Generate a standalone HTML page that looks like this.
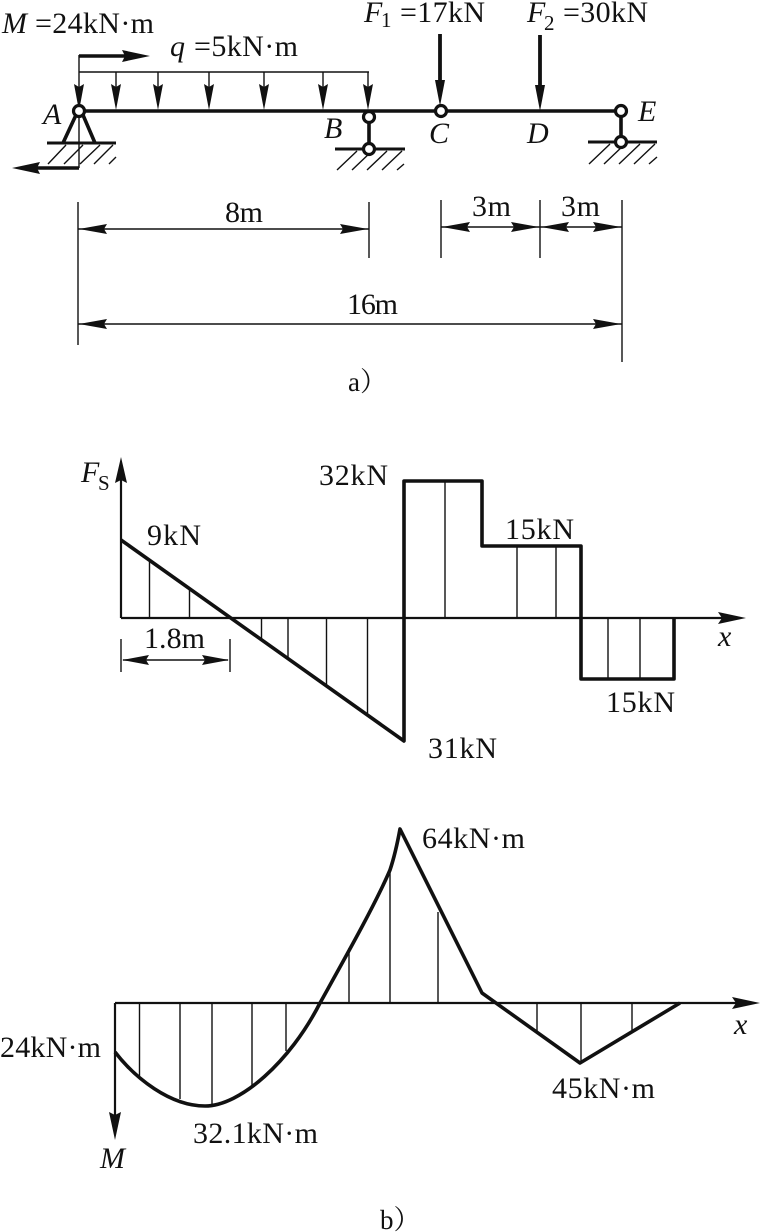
<!DOCTYPE html>
<html><head><meta charset="utf-8"><style>
html,body{margin:0;padding:0;background:#fff}
svg{display:block}
text{font-family:"Liberation Serif","Noto Serif CJK SC",serif;font-size:30px;fill:#111}
.i{font-style:italic}
.s{font-size:21px}
.t{stroke:#111;stroke-width:1.4;fill:none}
.m{stroke:#111;stroke-width:2.2;fill:none}
.b{stroke:#111;stroke-width:3.6;fill:none;stroke-linejoin:round}
.h{fill:#111}
.n{fill:#fff;stroke:#111;stroke-width:3.2}
</style></head><body>
<svg xmlns="http://www.w3.org/2000/svg" width="760" height="1232" viewBox="0 0 760 1232">
<rect width="760" height="1232" fill="#fff"/>
<!-- a) beam -->
<path class="b" d="M80 111H621"/>
<path class="t" d="M79 72H369M79 55V168M116 72V100M158 72V100M209 72V100M264 72V100M323 72V100M368 72V100"/>
<path class="h" d="M74 84L79 111L84 84L79 87ZM111 84L116 110L121 84L116 87ZM153 84L158 110L163 84L158 87ZM204 84L209 110L214 84L209 87ZM259 84L264 110L269 84L264 87ZM318 84L323 110L328 84L323 87ZM363 84L368 110L373 84L368 87Z"/>
<!-- moment -->
<path class="b" d="M79 56H128M79 168H34"/>
<path class="h" d="M122 50L150 56L122 62L125 56ZM40 162L12 168L40 174L37 168Z"/>
<!-- supports -->
<path class="b" d="M63 143L76 115M95 143L83 115M369 122V145M621 117V137"/>
<path class="b" d="M47 143H116M335 149H405M588 142H657" style="stroke-width:3"/>
<path class="t" d="M48 164L66 145M64 164L83 145M80 164L100 145M94 164L113 145M109 164L116 157M337 170L357 151M352 170L372 151M367 170L387 151M382 170L402 151M397 170L404 164M589 164L610 144M604 164L625 144M619 164L640 144M634 164L655 144M649 164L657 157"/>
<circle class="n" cx="79" cy="111" r="5.500"/>
<circle class="n" cx="369" cy="117" r="5.500"/>
<circle class="n" cx="369" cy="149" r="5.500"/>
<circle class="n" cx="441" cy="111" r="5.500"/>
<circle class="n" cx="621" cy="111" r="5.500"/>
<circle class="n" cx="621" cy="142" r="5.500"/>
<!-- forces -->
<path class="b" d="M440 34V85M540 35V90" style="stroke-width:3.800"/>
<path class="h" d="M435 80L440 106L445 80ZM535 85L540 111L545 85Z"/>
<!-- labels top -->
<text x="2" y="33" class="i">M</text>
<text x="35" y="33" textLength="119">=24kN·m</text>
<text x="170" y="56" class="i">q</text>
<text x="194" y="56" textLength="104">=5kN·m</text>
<text x="364" y="22" class="i">F</text><text x="381" y="27" class="s">1</text>
<text x="400" y="22" textLength="85">=17kN</text>
<text x="527" y="22" class="i">F</text><text x="544" y="30" class="s">2</text>
<text x="563" y="22" textLength="85">=30kN</text>
<text x="43" y="124" class="i">A</text>
<text x="324" y="138" class="i">B</text>
<text x="429" y="143" class="i">C</text>
<text x="527" y="143" class="i">D</text>
<text x="638" y="121" class="i">E</text>
<!-- dims -->
<path class="t" d="M78 202V345M369 202V258M441 200V258M540 200V258M622 200V362M78 229H369M441 227H622M78 324H622"/>
<path class="h" d="M79 229L107 224L104 229L107 234ZM368 229L340 224L343 229L340 234ZM442 227L470 222L467 227L470 232ZM539 227L511 222L514 227L511 232ZM541 227L569 222L566 227L569 232ZM621 227L593 222L596 227L593 232ZM79 324L107 319L104 324L107 329ZM621 324L593 319L596 324L593 329Z"/>
<text x="225" y="222" textLength="38">8m</text>
<text x="472" y="216" textLength="39">3m</text>
<text x="561" y="216" textLength="39">3m</text>
<text x="347" y="314" textLength="51">16m</text>
<text x="348" y="391" style="font-size:27px">a）</text>
<!-- Fs diagram -->
<path class="m" d="M121 618V470"/>
<path class="h" d="M115 483L121 457L127 483L121 480Z"/>
<path class="m" d="M121 618H730"/>
<path class="h" d="M718 612L746 618L718 624L722 618Z"/>
<path class="t" d="M149.500 562V618M189.500 590V618M261.500 618V640M288 618V658M326.500 618V686M367.500 618V715M445 481V618M517 546V618M556 546V618M608 618V679M640 618V679"/>
<path class="b" d="M121 540L404 741V481H482V546H581V679H674V618"/>
<path class="t" d="M121 639V672M230 639V672M123 660H228"/>
<path class="h" d="M122 660L149 655L146 660L149 665ZM229 660L202 655L205 660L202 665Z"/>
<text x="81" y="482" class="i">F</text><text x="98" y="490" class="s">S</text>
<text x="147" y="545" textLength="54">9kN</text>
<text x="319" y="485" textLength="69">32kN</text>
<text x="505" y="539" textLength="69">15kN</text>
<text x="144" y="648" textLength="61">1.8m</text>
<text x="428" y="758" textLength="69">31kN</text>
<text x="606" y="712" textLength="69">15kN</text>
<text x="718" y="646" class="i">x</text>
<!-- M diagram -->
<path class="m" d="M115 1003V1120M115 1003H745"/>
<path class="h" d="M109 1112L115 1140L121 1112L115 1115ZM732 997L760 1003L732 1009L736 1003Z"/>
<path class="t" d="M139.500 1003V1076M180 1003V1099M212 1003V1106M252 1003V1088M286 1003V1051M349 1003V948M390 1003V868M438 1003V912M537 1003V1033M581 1003V1063M632 1003V1030"/>
<path class="b" d="M115 1052C135 1078 170 1106 205 1106C240 1106 290 1062 320 1003C345 958 375 905 390 870C395 855 398 840 400 829L482 993L580 1063L680 1003"/>
<text x="0" y="1057" textLength="101">24kN·m</text>
<text x="193" y="1143" textLength="125">32.1kN·m</text>
<text x="422" y="848" textLength="103">64kN·m</text>
<text x="552" y="1098" textLength="103">45kN·m</text>
<text x="100" y="1168" class="i">M</text>
<text x="734" y="1034" class="i">x</text>
<text x="380" y="1229" style="font-size:27px">b）</text>
</svg>
</body></html>
